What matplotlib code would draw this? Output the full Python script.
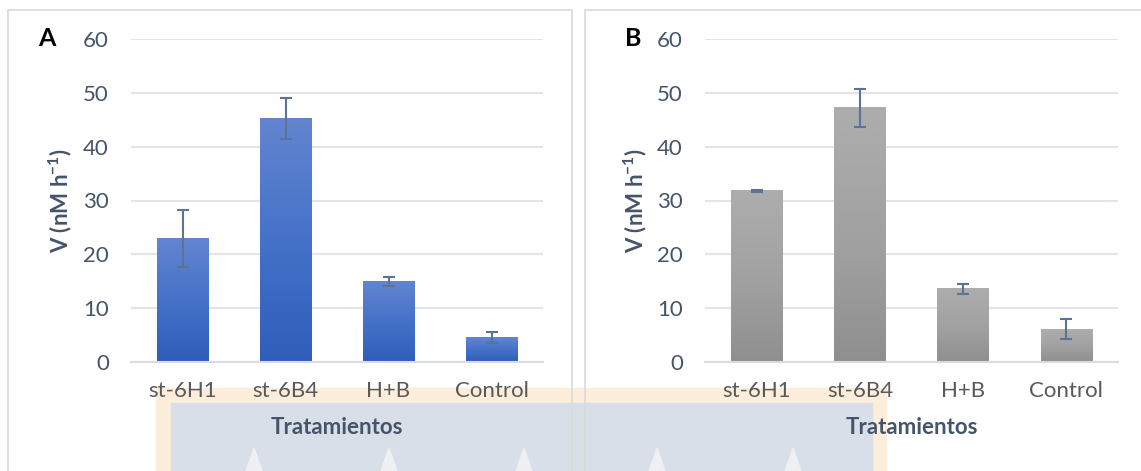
import numpy as np
import matplotlib
matplotlib.use("Agg")
import matplotlib.pyplot as plt
from matplotlib.patches import Rectangle, Polygon
from matplotlib.colors import LinearSegmentedColormap

plt.rcParams['font.family'] = ['Lato', 'DejaVu Sans']
plt.rcParams['mathtext.default'] = 'regular'

# data
treatments = ['st-6H1', 'st-6B4', 'H+B', 'Control']
rate_a = [22.9, 45.3, 14.9, 4.5]
err_a = [5.3, 3.8, 0.8, 1.0]
rate_b = [31.8, 47.2, 13.6, 6.1]
err_b = [0.2, 3.5, 0.9, 1.8]

W, H = 1141, 471
fig = plt.figure(figsize=(W / 100, H / 100), dpi=100)

text_col = '#44546a'
grid_col = '#e1e4e9'
err_col = '#5b7397'

blue_cmap = LinearSegmentedColormap.from_list('blue', ['#2f5db9', '#4572c8', '#6385d0'])
gray_cmap = LinearSegmentedColormap.from_list('gray', ['#8f8f8f', '#a2a2a2', '#adadad'])


def px_rect(x0, y0, x1, y1):
    # pixel box (top-left origin) -> figure fraction rect
    return [x0 / W, 1 - y1 / H, (x1 - x0) / W, (y1 - y0) / H]


def draw_panel(rect, values, errors, cmap, letter, ylab_x):
    ax = fig.add_axes(rect)
    ax.set_facecolor('none')
    x = np.arange(len(treatments))
    bars = ax.bar(x, values, width=0.5, color='none', zorder=2)
    grad = np.linspace(0, 1, 256).reshape(-1, 1)
    for b in bars:
        bx, by = b.get_x(), b.get_y()
        ax.imshow(grad, cmap=cmap, origin='lower', aspect='auto', zorder=2,
                  extent=[bx, bx + b.get_width(), by, by + b.get_height()])
    ax.errorbar(x, values, yerr=errors, fmt='none', ecolor=err_col,
                elinewidth=1.5, capsize=4.5, capthick=1.5, zorder=3)
    ax.set_xlim(-0.5, 3.5)
    ax.set_ylim(0, 60)
    ax.set_yticks(range(0, 61, 10))
    ax.set_xticks(x)
    ax.set_xticklabels(treatments)
    ax.yaxis.grid(True, color=grid_col, lw=1.5, zorder=0)
    ax.set_axisbelow(True)
    for s in ['top', 'right', 'left']:
        ax.spines[s].set_visible(False)
    ax.spines['bottom'].set_color('#d9dde3')
    ax.spines['bottom'].set_linewidth(1.5)
    ax.tick_params(axis='both', length=0, labelsize=16, labelcolor='#595959')
    ax.tick_params(axis='y', pad=16, labelcolor=text_col)
    ax.tick_params(axis='x', pad=14)
    ax.set_xlabel('Tratamientos', fontsize=16, fontweight='bold', color=text_col, labelpad=11)
    ax.set_ylabel(r'V (nM h$^{-1}$)', fontsize=16, fontweight='bold', color=text_col)
    ax.yaxis.set_label_coords(ylab_x, 0.5)
    ax.text(letter[1], 1.0, letter[0], transform=ax.transAxes, fontsize=18,
            fontweight='bold', color='black', ha='center', va='center')
    return ax


# background watermark band and panel frames
fig.add_artist(Rectangle((156 / W, 0), (886 - 156) / W, (H - 388) / H,
                         transform=fig.transFigure, color='#fdeedb', zorder=-3))
fig.add_artist(Rectangle((171 / W, 0), (872 - 171) / W, (H - 403) / H,
                         transform=fig.transFigure, color='#d8dfe8', zorder=-2))
for cx in [254, 389, 524, 657, 793]:
    fig.add_artist(Polygon([((cx - 8) / W, 0), (cx / W, (H - 448) / H), ((cx + 8) / W, 0)],
                           closed=True, transform=fig.transFigure,
                           color='#eef0f3', zorder=-1.5))
fig.add_artist(Rectangle((7.5 / W, -0.05), (572 - 7.5) / W, 1.05 - 10 / H,
                         transform=fig.transFigure, fill=False, ec='#d9d9d9', lw=1.2, zorder=-1))
fig.add_artist(Rectangle((584.5 / W, -0.05), 0.6, 1.05 - 10 / H,
                         transform=fig.transFigure, fill=False, ec='#d9d9d9', lw=1.2, zorder=-1))

ax_a = draw_panel(px_rect(131, 39, 543, 362), rate_a, err_a, blue_cmap, ('A', -0.205), -0.138)
ax_b = draw_panel(px_rect(705, 39, 1118, 362), rate_b, err_b, gray_cmap, ('B', -0.175), -0.135)

fig.savefig('out.png', dpi=100)
